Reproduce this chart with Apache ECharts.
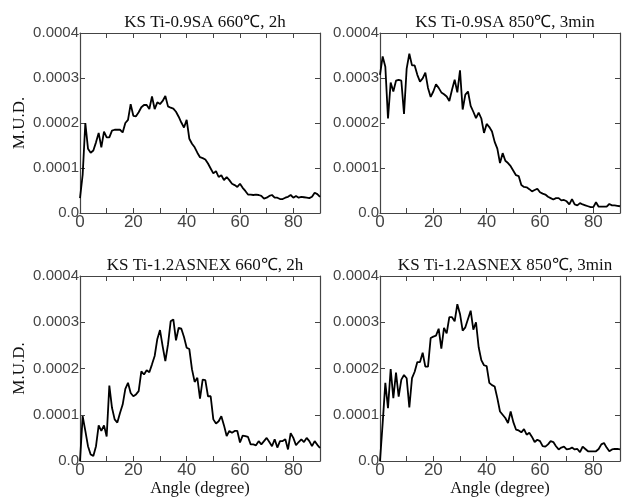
<!DOCTYPE html>
<html><head><meta charset="utf-8">
<script src="https://cdn.jsdelivr.net/npm/echarts@6/dist/echarts.min.js"></script>
<style>html,body{margin:0;padding:0;background:#fff}#c{width:628px;height:498px}</style>
</head><body><div id="c"></div>
<script>
var angles = [0,1,2,3,4,5,6,7,8,9,10,11,12,13,14,15,16,17,18,19,20,21,22,23,24,25,26,27,28,29,30,31,32,33,34,35,36,37,38,39,40,41,42,43,44,45,46,47,48,49,50,51,52,53,54,55,56,57,58,59,60,61,62,63,64,65,66,67,68,69,70,71,72,73,74,75,76,77,78,79,80,81,82,83,84,85,86,87,88,89,90];
var titles = ['KS Ti-0.9SA 660\u2103, 2h','KS Ti-0.9SA 850\u2103, 3min','KS Ti-1.2ASNEX 660\u2103, 2h','KS Ti-1.2ASNEX 850\u2103, 3min'];
var yTicks = [0, 0.0001, 0.0002, 0.0003, 0.0004];
var xLabelTicks = [0, 20, 40, 60, 80];
var yName = 'M.U.D.';
var xName = 'Angle (degree)';
// MUD values (x1e-4 for readability)
var p1 = [0.33,0.85,2.0,1.43,1.34,1.39,1.57,1.78,1.46,1.81,1.68,1.68,1.83,1.85,1.85,1.85,1.79,2.0,2.07,2.42,2.16,2.15,2.24,2.35,2.40,2.40,2.31,2.59,2.31,2.46,2.42,2.49,2.60,2.37,2.34,2.32,2.25,2.14,2.01,1.90,2.07,1.65,1.54,1.46,1.34,1.24,1.22,1.19,1.10,0.99,0.88,0.93,0.80,0.84,0.73,0.80,0.73,0.65,0.62,0.58,0.65,0.56,0.49,0.41,0.41,0.40,0.41,0.40,0.38,0.32,0.34,0.38,0.40,0.34,0.34,0.31,0.31,0.34,0.36,0.40,0.34,0.38,0.34,0.36,0.35,0.34,0.33,0.36,0.45,0.42,0.36];
var p2 = [3.07,3.48,3.25,2.10,2.90,2.70,2.94,2.96,2.94,2.20,3.21,3.54,3.28,3.28,3.07,2.92,2.99,3.12,2.78,2.58,2.70,2.86,2.78,2.68,2.64,2.59,2.49,2.74,2.96,2.68,3.17,2.30,2.63,2.70,2.38,2.25,2.11,2.23,2.10,1.78,1.98,1.91,1.81,1.58,1.43,1.11,1.33,1.16,1.11,1.04,0.94,0.84,0.82,0.62,0.58,0.57,0.53,0.48,0.51,0.54,0.46,0.43,0.41,0.36,0.33,0.30,0.33,0.33,0.28,0.29,0.26,0.19,0.31,0.19,0.17,0.22,0.19,0.17,0.15,0.13,0.13,0.24,0.14,0.14,0.14,0.14,0.20,0.17,0.17,0.16,0.15];
var p3 = [0.0,0.97,0.65,0.32,0.14,0.11,0.32,0.77,0.65,0.77,0.53,1.63,1.15,0.90,0.83,1.04,1.22,1.56,1.69,1.47,1.40,1.44,1.51,1.94,1.87,1.96,1.92,2.09,2.27,2.64,2.83,2.48,2.16,2.52,3.02,3.06,2.61,2.88,2.86,2.68,2.45,2.42,1.98,1.71,1.80,1.35,1.76,1.75,1.40,1.40,0.90,0.81,0.86,0.97,0.77,0.54,0.65,0.61,0.65,0.65,0.40,0.55,0.54,0.52,0.36,0.36,0.34,0.43,0.36,0.43,0.50,0.41,0.32,0.47,0.29,0.43,0.43,0.47,0.25,0.60,0.50,0.34,0.41,0.47,0.41,0.50,0.43,0.32,0.43,0.35,0.28];
var p4 = [0.0,0.82,1.69,1.14,1.99,1.36,1.91,1.39,1.76,1.86,1.79,1.16,1.79,1.93,2.14,2.14,2.34,2.04,2.04,2.66,2.69,2.71,2.86,2.43,2.88,2.76,3.11,3.11,3.02,3.39,3.18,2.82,2.89,3.07,3.25,2.84,3.00,2.46,2.18,2.07,2.05,1.69,1.64,1.61,1.36,1.07,1.00,0.93,0.82,1.07,0.84,0.68,0.66,0.62,0.69,0.57,0.61,0.52,0.41,0.46,0.43,0.32,0.31,0.36,0.43,0.41,0.32,0.25,0.29,0.31,0.25,0.26,0.29,0.25,0.26,0.19,0.31,0.26,0.21,0.21,0.21,0.21,0.26,0.36,0.39,0.29,0.21,0.25,0.26,0.26,0.25];
var seriesData = [p1, p2, p3, p4];

var grids = [
  {left: 80, top: 33, width: 240, height: 180},
  {left: 380, top: 33, width: 240, height: 180},
  {left: 80, top: 276, width: 240, height: 186},
  {left: 380, top: 276, width: 240, height: 186}
];
var labelFont = 'Liberation Sans';
var serif = 'Liberation Serif';
var axColor = '#444';
var xAxes = [], yAxes = [], series = [], titleArr = [];
grids.forEach(function(g, i){
  var bottomRow = i >= 2, leftCol = (i % 2 === 0);
  xAxes.push({
    gridIndex: i, type: 'value', min: 0, max: 90, interval: 10, position: 'bottom',
    axisLine: {show: true, onZero: false, lineStyle: {color: axColor, width: 1.2}},
    axisTick: {show: true, inside: true, length: 5, lineStyle: {color: axColor}},
    axisLabel: {show: true, margin: 1, fontFamily: labelFont, fontSize: 17, color: '#444',
      formatter: function(v){ return xLabelTicks.indexOf(v) >= 0 ? String(v) : ''; }},
    splitLine: {show: false},
    name: bottomRow ? xName : '', nameLocation: 'middle', nameGap: 19,
    nameTextStyle: {fontFamily: serif, fontSize: 16.5, color: '#111'}
  });
  xAxes.push({
    gridIndex: i, type: 'value', min: 0, max: 90, interval: 10, position: 'top',
    axisLine: {show: true, onZero: false, lineStyle: {color: axColor, width: 1.2}},
    axisTick: {show: true, inside: true, length: 5, lineStyle: {color: axColor}},
    axisLabel: {show: false}, splitLine: {show: false}
  });
  yAxes.push({
    gridIndex: i, type: 'value', min: 0, max: 0.0004, interval: 0.0001, position: 'left',
    axisLine: {show: true, onZero: false, lineStyle: {color: axColor, width: 1.2}},
    axisTick: {show: true, inside: true, length: 5, lineStyle: {color: axColor}},
    axisLabel: {show: true, margin: 1, fontFamily: labelFont, fontSize: 15, color: '#444',
      formatter: function(v){ return v === 0 ? '0.0' : v.toFixed(4); }},
    splitLine: {show: false},
    name: leftCol ? yName : '', nameLocation: 'middle', nameGap: 52, nameRotate: 90,
    nameTextStyle: {fontFamily: serif, fontSize: 17, color: '#111'}
  });
  yAxes.push({
    gridIndex: i, type: 'value', min: 0, max: 0.0004, interval: 0.0001, position: 'right',
    axisLine: {show: true, onZero: false, lineStyle: {color: axColor, width: 1.2}},
    axisTick: {show: true, inside: true, length: 5, lineStyle: {color: axColor}},
    axisLabel: {show: false}, splitLine: {show: false}
  });
  var d = seriesData[i].map(function(v, k){ return [angles[k], v * 1e-4]; });
  series.push({
    type: 'line', xAxisIndex: 2 * i, yAxisIndex: 2 * i, data: d,
    showSymbol: false, symbol: 'none', lineStyle: {color: '#000', width: 1.8}, animation: false
  });
  titleArr.push({
    text: titles[i], left: g.left + g.width / 2, top: g.top - 24, textAlign: 'center',
    textStyle: {fontFamily: serif, fontSize: 17, fontWeight: 'normal', color: '#111'}
  });
});

var chart = echarts.init(document.getElementById('c'), null, {renderer: 'canvas'});
chart.setOption({
  animation: false,
  backgroundColor: '#fff',
  title: titleArr,
  grid: grids,
  xAxis: xAxes,
  yAxis: yAxes,
  series: series
});
</script>
</body></html>
